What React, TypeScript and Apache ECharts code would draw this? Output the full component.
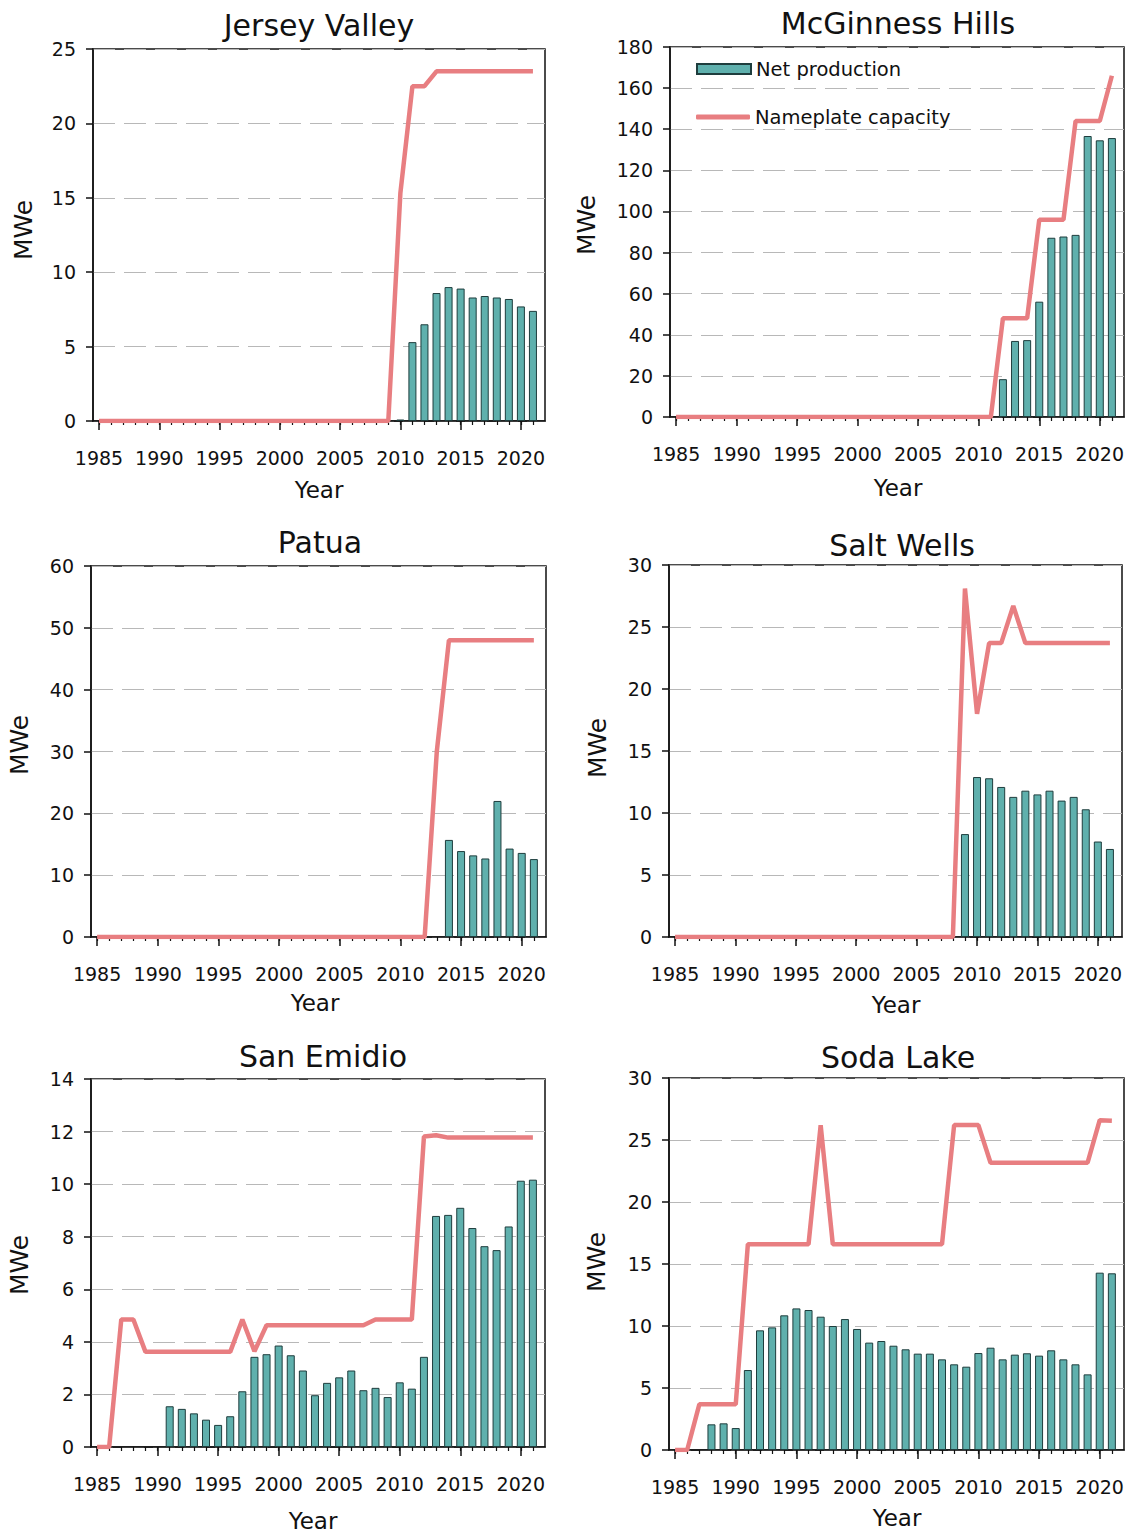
import React, { useEffect, useRef } from "react";
import * as echarts from "echarts";

const FONT = "DejaVu Sans";
const INK = "#111111";
const BAR_FILL = "#5fb0ad";
const BAR_EDGE = "#1e3d3d";
const LINE_COLOR = "#e87e81";

// Years covered by every panel (x axis domain values)
const YEARS = [
  1985, 1986, 1987, 1988, 1989, 1990, 1991, 1992, 1993, 1994, 1995, 1996, 1997,
  1998, 1999, 2000, 2001, 2002, 2003, 2004, 2005, 2006, 2007, 2008, 2009, 2010,
  2011, 2012, 2013, 2014, 2015, 2016, 2017, 2018, 2019, 2020, 2021,
];
const MAJOR_YEARS = [1985, 1990, 1995, 2000, 2005, 2010, 2015, 2020];

// ---- Jersey Valley ----
const jvCapacity = [
  0, 0, 0, 0, 0, 0, 0, 0, 0, 0, 0, 0, 0, 0, 0, 0, 0, 0, 0, 0, 0, 0, 0, 0, 0,
  15.3, 22.5, 22.5, 23.5, 23.5, 23.5, 23.5, 23.5, 23.5, 23.5, 23.5, 23.5,
];
const jvProdStart = 2010;
const jvProduction = [0.1, 5.3, 6.5, 8.6, 9.0, 8.9, 8.3, 8.4, 8.3, 8.2, 7.7, 7.4];

// ---- McGinness Hills ----
const mcgCapacity = [
  0, 0, 0, 0, 0, 0, 0, 0, 0, 0, 0, 0, 0, 0, 0, 0, 0, 0, 0, 0, 0, 0, 0, 0, 0, 0, 0,
  48, 48, 48, 96, 96, 96, 144, 144, 144, 166,
];
const mcgProdStart = 2012;
const mcgProduction = [18.4, 37.0, 37.4, 56.1, 87.2, 87.8, 88.6, 136.7, 134.6, 135.7];

// ---- Patua ----
const patuaCapacity = [
  0, 0, 0, 0, 0, 0, 0, 0, 0, 0, 0, 0, 0, 0, 0, 0, 0, 0, 0, 0, 0, 0, 0, 0, 0, 0, 0, 0,
  30, 48, 48, 48, 48, 48, 48, 48, 48,
];
const patuaProdStart = 2014;
const patuaProduction = [15.7, 13.9, 13.2, 12.7, 22.0, 14.3, 13.6, 12.6];

// ---- Salt Wells ----
const swCapacity = [
  0, 0, 0, 0, 0, 0, 0, 0, 0, 0, 0, 0, 0, 0, 0, 0, 0, 0, 0, 0, 0, 0, 0, 0,
  28.1, 18.0, 23.7, 23.7, 26.7, 23.7, 23.7, 23.7, 23.7, 23.7, 23.7, 23.7, 23.7,
];
const swProdStart = 2009;
const swProduction = [8.3, 12.9, 12.8, 12.1, 11.3, 11.8, 11.5, 11.8, 11.0, 11.3, 10.3, 7.7, 7.1];

// ---- San Emidio ----
const seCapacity = [
  0, 0, 4.85, 4.85, 3.62, 3.62, 3.62, 3.62, 3.62, 3.62, 3.62, 3.62, 4.85, 3.64,
  4.63, 4.63, 4.63, 4.63, 4.63, 4.63, 4.63, 4.63, 4.63, 4.85, 4.85, 4.85, 4.85,
  11.81, 11.86, 11.77, 11.77, 11.77, 11.77, 11.77, 11.77, 11.77, 11.77,
];
const seProdStart = 1991;
const seProduction = [
  1.55, 1.45, 1.28, 1.04, 0.84, 1.17, 2.12, 3.43, 3.53, 3.86, 3.49, 2.91, 1.97,
  2.44, 2.65, 2.91, 2.16, 2.25, 1.9, 2.46, 2.22, 3.43, 8.79, 8.83, 9.1, 8.33,
  7.64, 7.49, 8.39, 10.13, 10.17,
];

// ---- Soda Lake ----
const slCapacity = [
  0, 0, 3.68, 3.68, 3.68, 3.68, 16.6, 16.6, 16.6, 16.6, 16.6, 16.6, 26.2, 16.6,
  16.6, 16.6, 16.6, 16.6, 16.6, 16.6, 16.6, 16.6, 16.6, 26.2, 26.2, 26.2, 23.17,
  23.17, 23.17, 23.17, 23.17, 23.17, 23.17, 23.17, 23.17, 26.6, 26.56,
];
const slProdStart = 1988;
const slProduction = [
  2.07, 2.15, 1.77, 6.45, 9.65, 9.89, 10.86, 11.42, 11.29, 10.75, 10.0, 10.56,
  9.76, 8.66, 8.79, 8.41, 8.12, 7.77, 7.77, 7.31, 6.91, 6.72, 7.82, 8.25, 7.31,
  7.69, 7.8, 7.61, 8.04, 7.31, 6.91, 6.1, 14.3, 14.25,
];

const TITLES = ["Jersey Valley", "McGinness Hills", "Patua", "Salt Wells", "San Emidio", "Soda Lake"];
const Y_MAX = [25, 180, 60, 30, 14, 30];
const Y_STEP = [5, 20, 10, 5, 2, 5];
const CAPACITIES = [jvCapacity, mcgCapacity, patuaCapacity, swCapacity, seCapacity, slCapacity];
const PROD_STARTS = [jvProdStart, mcgProdStart, patuaProdStart, swProdStart, seProdStart, slProdStart];
const PRODUCTIONS = [jvProduction, mcgProduction, patuaProduction, swProduction, seProduction, slProduction];

// layout (pixels)
const LAYOUT = [
  { grid: [93, 49, 452, 372], title: [319, 25], mwe: [23, 230], year: [319, 490] },
  { grid: [670, 47, 454, 370], title: [898, 23], mwe: [586, 225], year: [898, 488] },
  { grid: [91, 566, 455, 371], title: [320, 542], mwe: [19, 745], year: [315, 1003] },
  { grid: [669, 565, 453, 372], title: [902, 545], mwe: [597, 748], year: [896, 1005] },
  { grid: [91, 1079, 454, 368], title: [323, 1056], mwe: [19, 1265], year: [313, 1521] },
  { grid: [669, 1078, 455, 372], title: [898, 1057], mwe: [596, 1262], year: [897, 1518] },
];

function centeredText(text: string, x: number, y: number, fontSize: number, rotation = 0) {
  return {
    type: "text",
    x,
    y,
    rotation,
    style: {
      text,
      fontSize,
      fontFamily: FONT,
      fill: INK,
      align: "center",
      verticalAlign: "middle",
      textAlign: "center",
      textVerticalAlign: "middle",
    },
  };
}

function buildOption() {
  const grids: any[] = [];
  const xAxes: any[] = [];
  const yAxes: any[] = [];
  const series: any[] = [];
  const graphics: any[] = [];

  LAYOUT.forEach((L, i) => {
    const [left, top, width, height] = L.grid;
    grids.push({
      left, top, width, height,
      show: true,
      borderColor: INK,
      borderWidth: 1.5,
      backgroundColor: "transparent",
      containLabel: false,
      outerBoundsMode: "none",
    });
    xAxes.push({
      type: "value",
      gridIndex: i,
      min: 1984.5,
      max: 2022,
      position: "bottom",
      axisLine: { show: true, onZero: false, lineStyle: { color: INK, width: 1.5 } },
      axisTick: { show: true, customValues: MAJOR_YEARS, length: 9, lineStyle: { color: INK, width: 1.5 } },
      axisLabel: {
        show: true,
        customValues: MAJOR_YEARS,
        margin: 27,
        fontSize: 19,
        color: INK,
        fontFamily: FONT,
        formatter: (v: number) => String(Math.round(v)),
      },
      splitLine: { show: false },
    });
    xAxes.push({
      type: "value",
      gridIndex: i,
      min: 1984.5,
      max: 2022,
      position: "bottom",
      axisLine: { show: false, onZero: false },
      axisTick: { show: true, customValues: YEARS, length: 4, lineStyle: { color: INK, width: 1.2 } },
      axisLabel: { show: false },
      splitLine: { show: false },
    });
    yAxes.push({
      type: "value",
      gridIndex: i,
      min: 0,
      max: Y_MAX[i],
      interval: Y_STEP[i],
      axisLine: { show: true, lineStyle: { color: INK, width: 1.5 } },
      axisTick: { show: true, length: 7, lineStyle: { color: INK, width: 1.5 } },
      axisLabel: { margin: 17, fontSize: 19, color: INK, fontFamily: FONT },
      splitLine: { show: true, lineStyle: { color: "#b8b8b8", type: [22, 9], width: 1 } },
    });
    series.push({
      type: "bar",
      name: "Net production",
      xAxisIndex: 2 * i,
      yAxisIndex: i,
      barWidth: 8,
      data: PRODUCTIONS[i].map((v, k) => [PROD_STARTS[i] + k, v]),
      itemStyle: { color: BAR_FILL, borderColor: BAR_EDGE, borderWidth: 1 },
      z: 2,
    });
    series.push({
      type: "line",
      name: "Nameplate capacity",
      xAxisIndex: 2 * i,
      yAxisIndex: i,
      data: CAPACITIES[i].map((v, k) => [YEARS[k], v]),
      symbol: "none",
      showSymbol: false,
      lineStyle: { color: LINE_COLOR, width: 4.5 },
      itemStyle: { color: LINE_COLOR },
      z: 3,
    });
    graphics.push(centeredText(TITLES[i], L.title[0], L.title[1], 30));
    graphics.push(centeredText("MWe", L.mwe[0], L.mwe[1], 25, Math.PI / 2));
    graphics.push(centeredText("Year", L.year[0], L.year[1], 23));
  });

  const legendText = { fontSize: 19.5, color: INK, fontFamily: FONT };

  return {
    animation: false,
    backgroundColor: "#ffffff",
    textStyle: { fontFamily: FONT },
    grid: grids,
    xAxis: xAxes,
    yAxis: yAxes,
    series,
    graphic: graphics,
    legend: [
      {
        left: 691,
        top: 54,
        itemWidth: 54,
        itemHeight: 10,
        textStyle: legendText,
        data: [{ name: "Net production", icon: "rect" }],
      },
      {
        left: 691,
        top: 102,
        itemWidth: 54,
        itemHeight: 5,
        textStyle: legendText,
        itemStyle: { color: LINE_COLOR, borderWidth: 0 },
        data: [{ name: "Nameplate capacity", icon: "roundRect" }],
      },
    ],
  };
}

export default function App() {
  const ref = useRef<HTMLDivElement>(null);
  useEffect(() => {
    if (!ref.current) return;
    const chart = echarts.init(ref.current, undefined, { renderer: "svg" });
    chart.setOption(buildOption() as any);
    return () => chart.dispose();
  }, []);
  return (
    <div
      ref={ref}
      style={{ position: "absolute", left: 0, top: 0, width: 1130, height: 1535, background: "#fff" }}
    />
  );
}
